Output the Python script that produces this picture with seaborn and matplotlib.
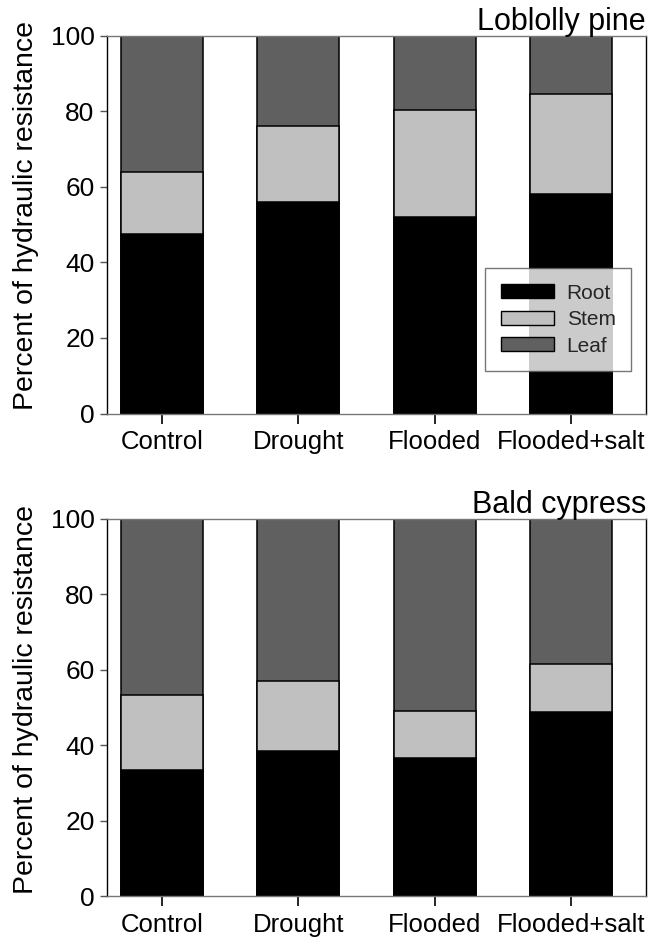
import matplotlib
matplotlib.use("Agg")
import matplotlib.pyplot as plt
import seaborn as sns
import pandas as pd
import numpy as np
from matplotlib.patches import Patch

sns.set_theme(style="white")
plt.rcParams['font.family'] = ['Liberation Sans', 'DejaVu Sans']

treatments = ["Control", "Drought", "Flooded", "Flooded+salt"]
components = ["Root", "Stem", "Leaf"]
colors = {"Root": "#000000", "Stem": "#c0c0c0", "Leaf": "#606060"}

pine_root = [47.6, 56.0, 51.9, 58.1]
pine_stem = [16.4, 20.1, 28.5, 26.5]
pine_leaf = [36.0, 23.9, 19.6, 15.4]

cypress_root = [33.4, 38.5, 36.6, 48.8]
cypress_stem = [20.0, 18.5, 12.5, 12.8]
cypress_leaf = [46.6, 43.0, 50.9, 38.4]

panels = [
    ("Loblolly pine", pine_root, pine_stem, pine_leaf),
    ("Bald cypress", cypress_root, cypress_stem, cypress_leaf),
]

W, H = 653, 946
fig = plt.figure(figsize=(W / 100, H / 100), dpi=100)
ax_rects = [
    [107 / W, 1 - 413.5 / H, 539 / W, 377.8 / H],
    [107 / W, 1 - 896.0 / H, 539 / W, 377.0 / H],
]
label_y = [0.525, 0.52]

for i, (title, root, stem, leaf) in enumerate(panels):
    ax = fig.add_axes(ax_rects[i])
    df = pd.DataFrame({"Treatment": treatments, "Root": root, "Stem": stem, "Leaf": leaf})
    df["cum_root"] = df["Root"]
    df["cum_stem"] = df["Root"] + df["Stem"]
    df["cum_leaf"] = df["Root"] + df["Stem"] + df["Leaf"]
    for comp, col in [("Leaf", "cum_leaf"), ("Stem", "cum_stem"), ("Root", "cum_root")]:
        sns.barplot(data=df, x="Treatment", y=col, color=colors[comp], width=0.6,
                    edgecolor="black", linewidth=1.1, saturation=1, ax=ax,
                    order=treatments)
    ax.set_xlim(-0.403, 3.55)
    ax.set_ylim(0, 100)
    ax.set_yticks([0, 20, 40, 60, 80, 100])
    ax.set_xlabel("")
    ax.set_ylabel("Percent of hydraulic resistance", fontsize=20.5, color="black")
    ax.yaxis.set_label_coords(-0.126, label_y[i])
    ax.tick_params(axis="y", direction="out", length=5, width=1, color="#555555",
                   labelsize=19, pad=4, left=True, labelcolor="black")
    ax.tick_params(axis="x", direction="out", length=7, width=1.2, color="black",
                   labelsize=18.5, pad=5, bottom=True, labelcolor="black")
    for s in ["left", "right"]:
        ax.spines[s].set_color("black")
        ax.spines[s].set_linewidth(1.0)
    for s in ["top", "bottom"]:
        ax.spines[s].set_color("#777777")
        ax.spines[s].set_linewidth(1.0)
    ax.set_title(title, loc="right", fontsize=22, pad=4, color="black")
    if i == 0:
        handles = [Patch(facecolor=colors[c], edgecolor="black", linewidth=1.0, label=c)
                   for c in components]
        leg = ax.legend(handles=handles, loc="upper left",
                        bbox_to_anchor=((485 - 107) / 539, (413.5 - 268) / 377.8),
                        borderaxespad=0, fontsize=15, frameon=True, fancybox=False,
                        edgecolor="#555555", handlelength=2.55, handleheight=0.67,
                        labelspacing=0.36, borderpad=0.75, handletextpad=0.62)
        leg.get_frame().set_linewidth(1.0)

fig.savefig("out.png", dpi=100)
